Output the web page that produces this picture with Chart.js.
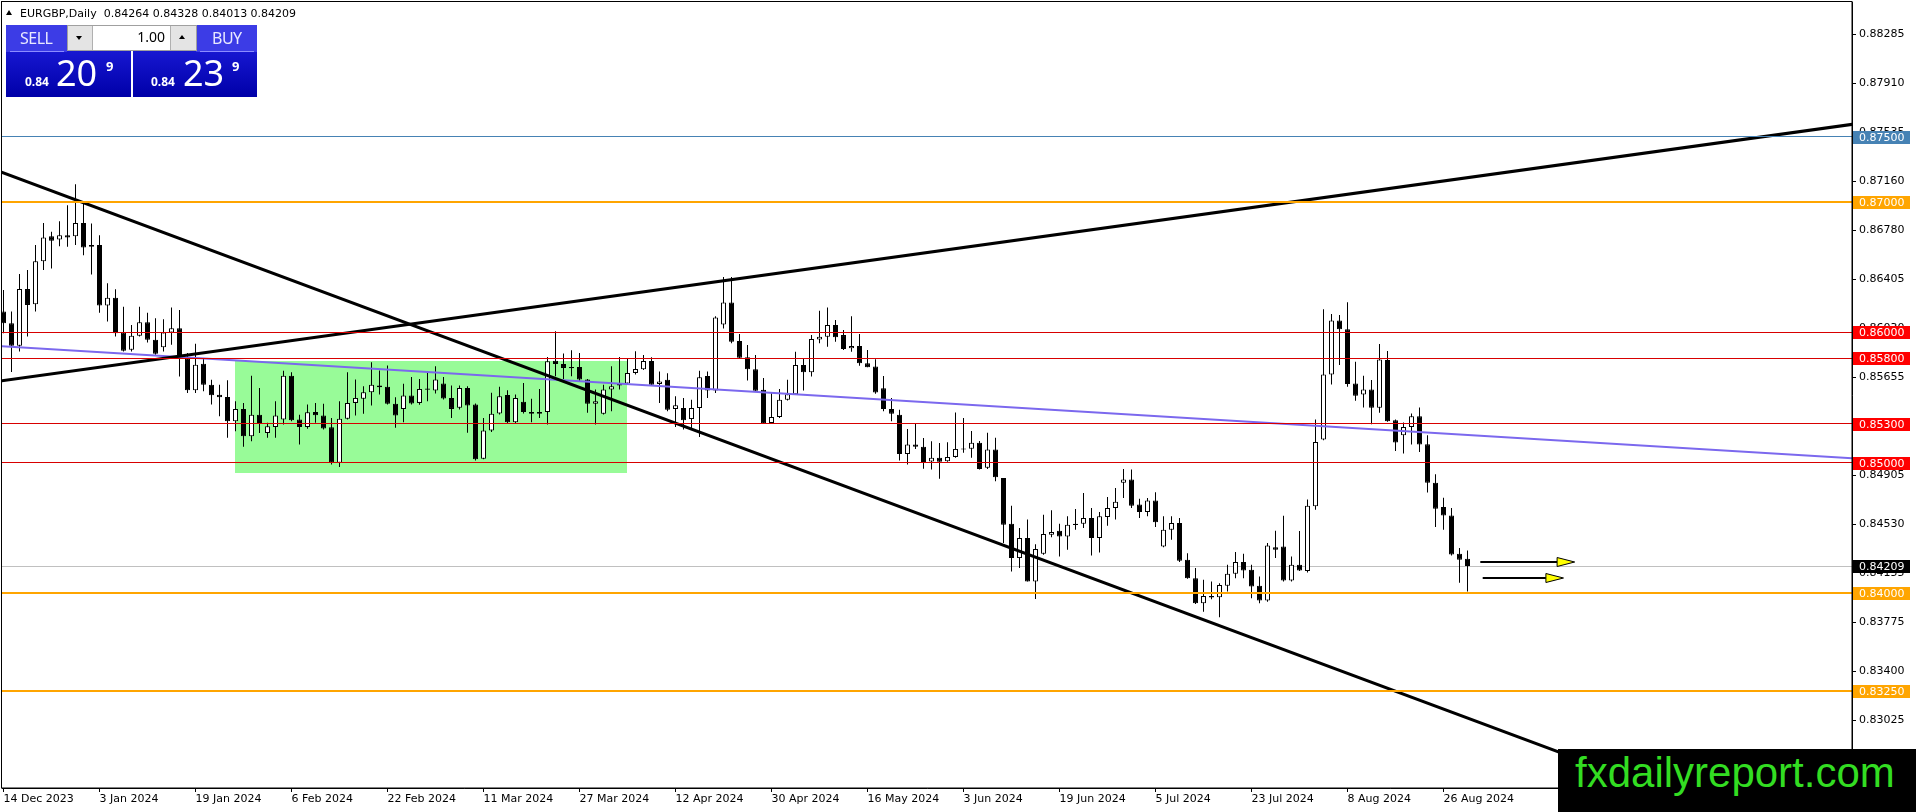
<!DOCTYPE html>
<html>
<head>
<meta charset="utf-8">
<script src="https://cdn.jsdelivr.net/npm/chart.js@4.4.1/dist/chart.umd.min.js"></script>
<style>
  html,body{margin:0;padding:0;background:#fff;}
  #wrap{position:relative;width:1916px;height:812px;overflow:hidden;background:#fff;}
  #c{position:absolute;left:0;top:0;}
  .abs{position:absolute;white-space:pre;}
  .hdr{font:11px "DejaVu Sans";line-height:11px;color:#000;left:20px;top:8px;}
  .tri{left:6px;top:10px;width:0;height:0;border-left:3.5px solid transparent;border-right:3.5px solid transparent;border-bottom:5px solid #000;}
  .head{background:#3c3ce6;}
  .price{background:linear-gradient(#2424e8,#0000a8);}
  .lbl{font:16px "Noto Sans";line-height:16px;color:#e8e8ff;letter-spacing:-0.5px;}
  .small{font:bold 12px "Noto Sans";line-height:12px;color:#fff;}
  .big{font:36px "Noto Sans";line-height:36px;color:#fff;}
  .sup{font:bold 13px "Noto Sans";line-height:13px;color:#fff;}
  .lot{left:67px;top:25px;width:128px;height:24px;background:#fff;border:1px solid #a0a0a0;}
  .btn{background:#e4e4e4;}
  .wm{left:1558px;top:749px;width:358px;height:63px;background:#000;}
  .wmt{font:42px "Liberation Sans";line-height:42px;color:#33dd22;left:1575px;top:752px;}
</style>
</head>
<body>
<div id="wrap">
  <canvas id="c" width="1916" height="812"></canvas>

  <div class="abs tri"></div>
  <div class="abs hdr">EURGBP,Daily  0.84264 0.84328 0.84013 0.84209</div>

  <!-- SELL panel -->
  <div class="abs price" style="left:6px;top:25px;width:125px;height:72px;"></div>
  <div class="abs head" style="left:6px;top:25px;width:61px;height:27px;"></div>
  <div class="abs" style="left:10px;top:51px;width:54px;height:1px;background:#8c8cff;"></div>
  <div class="abs lbl" style="left:20px;top:30px;">SELL</div>
  <div class="abs small" style="left:25px;top:76px;">0.84</div>
  <div class="abs big" style="left:56px;top:55px;">20</div>
  <div class="abs sup" style="left:106px;top:60px;">9</div>

  <!-- BUY panel -->
  <div class="abs price" style="left:133px;top:25px;width:124px;height:72px;"></div>
  <div class="abs head" style="left:196px;top:25px;width:61px;height:27px;"></div>
  <div class="abs" style="left:200px;top:51px;width:54px;height:1px;background:#8c8cff;"></div>
  <div class="abs lbl" style="left:212px;top:30px;">BUY</div>
  <div class="abs small" style="left:151px;top:76px;">0.84</div>
  <div class="abs big" style="left:183px;top:55px;">23</div>
  <div class="abs sup" style="left:232px;top:60px;">9</div>

  <!-- lot control -->
  <div class="abs lot"></div>
  <div class="abs btn" style="left:68px;top:26px;width:24px;height:24px;border-right:1px solid #b0b0b0;"></div>
  <div class="abs" style="left:76px;top:36px;width:0;height:0;border-left:3.5px solid transparent;border-right:3.5px solid transparent;border-top:4px solid #000;"></div>
  <div class="abs btn" style="left:170px;top:26px;width:25px;height:24px;border-left:1px solid #b0b0b0;"></div>
  <div class="abs" style="left:179px;top:35px;width:0;height:0;border-left:3.5px solid transparent;border-right:3.5px solid transparent;border-bottom:4px solid #000;"></div>
  <div class="abs" style="left:120px;top:30px;width:45px;text-align:right;font:14px 'Noto Sans';line-height:14px;color:#000;">1.00</div>

  <!-- watermark -->
  <div class="abs wm"></div>
  <div class="abs wmt">fxdailyreport.com</div>
</div>

<script>
// ---------- DATA (EURGBP daily, bar index 0 = 14 Dec 2023) ----------
const opens = [
0.86159,0.86070,0.85897,0.86332,0.86215,0.86546,0.86737,0.86712,0.86745,0.86737,
0.86839,0.86669,0.86669,0.86205,0.86266,0.85999,0.85866,0.85973,0.86078,0.85943,
0.85886,0.85999,0.86032,0.85802,0.85555,0.85759,0.85599,0.85522,0.85504,0.85318,
0.85413,0.85204,0.85369,0.85229,0.85275,0.85331,0.85667,0.85331,0.85275,0.85390,
0.85362,0.85273,0.85000,0.85337,0.85459,0.85490,0.85541,0.85592,0.85582,0.85452,
0.85413,0.85515,0.85459,0.85569,0.85554,0.85607,0.85497,0.85421,0.85574,0.85446,
0.85031,0.85247,0.85378,0.85520,0.85311,0.85467,0.85390,0.85375,0.85390,0.85783,
0.85758,0.85735,0.85735,0.85638,0.85452,0.85375,0.85561,0.85592,0.85607,0.85689,
0.85717,0.85781,0.85603,0.85636,0.85412,0.85419,0.85335,0.85419,0.85666,0.85554,
0.86061,0.86229,0.85934,0.85809,0.85717,0.85559,0.85305,0.85351,0.85483,0.85526,
0.85750,0.85694,0.85946,0.85967,0.86056,0.85979,0.85878,0.85895,0.85763,0.85738,
0.85572,0.85412,0.85369,0.85068,0.85140,0.85122,0.85010,0.85038,0.85012,0.85045,
0.85109,0.85107,0.85154,0.84961,0.85102,0.84884,0.84533,0.84269,0.84423,0.84089,
0.84302,0.84448,0.84479,0.84435,0.84533,0.84533,0.84576,0.84423,0.84584,0.84653,
0.84846,0.84871,0.84679,0.84623,0.84710,0.84358,0.84487,0.84538,0.84256,0.84115,
0.83922,0.83979,0.83969,0.84056,0.84148,0.84238,0.84179,0.84056,0.83943,0.84353,
0.84358,0.84097,0.84217,0.84169,0.84666,0.85178,0.85677,0.86090,0.86023,0.85608,
0.85524,0.85562,0.85421,0.85787,0.85326,0.85211,0.85275,0.85357,0.85142,0.84847,
0.84661,0.84596,0.84302,0.84264];
const highs = [
0.86325,0.86159,0.86447,0.86478,0.86669,0.86839,0.86771,0.86852,0.86974,0.87135,
0.87000,0.86834,0.86745,0.86376,0.86330,0.86197,0.86057,0.86197,0.86151,0.86108,
0.86100,0.86190,0.86172,0.85841,0.85912,0.85802,0.85637,0.85599,0.85632,0.85471,
0.85458,0.85667,0.85573,0.85306,0.85471,0.85706,0.85693,0.85369,0.85446,0.85459,
0.85452,0.85344,0.85472,0.85694,0.85638,0.85587,0.85770,0.85707,0.85745,0.85503,
0.85605,0.85658,0.85643,0.85702,0.85740,0.85658,0.85592,0.85592,0.85587,0.85454,
0.85344,0.85536,0.85582,0.85556,0.85523,0.85612,0.85490,0.85566,0.85811,0.86008,
0.85837,0.85862,0.85842,0.85643,0.85561,0.85599,0.85740,0.85811,0.85804,0.85855,
0.85827,0.85809,0.85699,0.85687,0.85509,0.85496,0.85483,0.85705,0.85699,0.86124,
0.86425,0.86425,0.85987,0.85903,0.85827,0.85649,0.85534,0.85565,0.85636,0.85852,
0.85801,0.85979,0.86165,0.86191,0.86094,0.86018,0.86124,0.85987,0.85865,0.85794,
0.85666,0.85496,0.85407,0.85259,0.85305,0.85190,0.85165,0.85152,0.85157,0.85386,
0.85343,0.85243,0.85166,0.85230,0.85192,0.84884,0.84671,0.84499,0.84564,0.84376,
0.84602,0.84635,0.84533,0.84589,0.84646,0.84769,0.84653,0.84623,0.84738,0.84807,
0.84953,0.84948,0.84723,0.84730,0.84774,0.84589,0.84589,0.84576,0.84307,0.84192,
0.84102,0.84089,0.84076,0.84217,0.84315,0.84302,0.84217,0.84128,0.84384,0.84479,
0.84594,0.84281,0.84476,0.84719,0.85332,0.86177,0.86141,0.86133,0.86230,0.85775,
0.85667,0.85634,0.85910,0.85857,0.85332,0.85308,0.85378,0.85424,0.85211,0.84911,
0.84732,0.84653,0.84346,0.84328];
const lows = [
0.85993,0.85695,0.85853,0.85968,0.86159,0.86478,0.86490,0.86661,0.86656,0.86669,
0.86592,0.86444,0.86151,0.86083,0.85968,0.85853,0.85853,0.85968,0.85922,0.85828,
0.85853,0.85904,0.85662,0.85535,0.85535,0.85548,0.85446,0.85356,0.85191,0.85242,
0.85122,0.85165,0.85229,0.85191,0.85191,0.85293,0.85318,0.85140,0.85260,0.85306,
0.85255,0.84987,0.84967,0.85332,0.85362,0.85375,0.85439,0.85523,0.85446,0.85268,
0.85311,0.85446,0.85444,0.85472,0.85531,0.85485,0.85344,0.85408,0.85230,0.85018,
0.85026,0.85235,0.85370,0.85301,0.85301,0.85378,0.85311,0.85344,0.85293,0.85663,
0.85643,0.85663,0.85625,0.85383,0.85293,0.85370,0.85395,0.85561,0.85599,0.85676,
0.85712,0.85590,0.85458,0.85394,0.85274,0.85254,0.85267,0.85198,0.85496,0.85534,
0.86030,0.85916,0.85801,0.85631,0.85547,0.85300,0.85300,0.85343,0.85478,0.85521,
0.85554,0.85661,0.85916,0.85890,0.85928,0.85865,0.85852,0.85743,0.85733,0.85529,
0.85394,0.85318,0.85017,0.84987,0.85106,0.84954,0.84949,0.84877,0.85007,0.85038,
0.85077,0.85038,0.84948,0.84953,0.84859,0.84384,0.84166,0.84192,0.84089,0.83956,
0.84294,0.84428,0.84281,0.84333,0.84487,0.84499,0.84289,0.84312,0.84517,0.84564,
0.84730,0.84653,0.84576,0.84589,0.84507,0.84353,0.84410,0.84238,0.84110,0.83917,
0.83858,0.83953,0.83815,0.84012,0.84115,0.84115,0.83961,0.83922,0.83935,0.84269,
0.84089,0.84089,0.84169,0.84159,0.84640,0.85173,0.85600,0.85749,0.85582,0.85475,
0.85424,0.85296,0.85383,0.85314,0.85091,0.85070,0.85139,0.85083,0.84771,0.84507,
0.84486,0.84289,0.84079,0.84013];
const closes = [
0.86070,0.85897,0.86332,0.86210,0.86546,0.86727,0.86702,0.86745,0.86727,0.86839,
0.86651,0.86656,0.86205,0.86266,0.85993,0.85858,0.85973,0.86078,0.85943,0.85836,
0.85999,0.86032,0.85802,0.85555,0.85751,0.85599,0.85517,0.85502,0.85318,0.85413,
0.85204,0.85369,0.85298,0.85280,0.85362,0.85667,0.85326,0.85275,0.85387,0.85365,
0.85263,0.85000,0.85337,0.85459,0.85497,0.85541,0.85599,0.85579,0.85452,0.85362,
0.85515,0.85454,0.85566,0.85559,0.85638,0.85492,0.85413,0.85574,0.85439,0.85026,
0.85247,0.85375,0.85510,0.85311,0.85497,0.85390,0.85375,0.85390,0.85778,0.85758,
0.85727,0.85724,0.85638,0.85452,0.85472,0.85561,0.85587,0.85607,0.85689,0.85719,
0.85781,0.85598,0.85623,0.85407,0.85440,0.85325,0.85419,0.85656,0.85554,0.86114,
0.86229,0.85928,0.85806,0.85717,0.85552,0.85300,0.85351,0.85483,0.85526,0.85750,
0.85694,0.85949,0.85967,0.86056,0.85962,0.85872,0.85895,0.85763,0.85733,0.85539,
0.85412,0.85376,0.85068,0.85140,0.85122,0.85005,0.85038,0.85007,0.85045,0.85106,
0.85101,0.85154,0.84953,0.85102,0.84889,0.84525,0.84269,0.84423,0.84089,0.84338,
0.84453,0.84469,0.84435,0.84525,0.84523,0.84576,0.84423,0.84589,0.84653,0.84700,
0.84871,0.84671,0.84623,0.84710,0.84543,0.84487,0.84538,0.84248,0.84115,0.83922,
0.83979,0.83966,0.84063,0.84148,0.84238,0.84174,0.84051,0.83943,0.84366,0.84333,
0.84097,0.84218,0.84174,0.84671,0.85160,0.85677,0.86090,0.86023,0.85603,0.85513,
0.85562,0.85421,0.85792,0.85319,0.85155,0.85275,0.85357,0.85139,0.84847,0.84648,
0.84596,0.84297,0.84256,0.84209];

const tickBars   = [0,12,24,36,48,60,72,84,96,108,120,132,144,156,168,180];
const tickLabels = ["14 Dec 2023","3 Jan 2024","19 Jan 2024","6 Feb 2024","22 Feb 2024","11 Mar 2024",
                    "27 Mar 2024","12 Apr 2024","30 Apr 2024","16 May 2024","3 Jun 2024","19 Jun 2024",
                    "5 Jul 2024","23 Jul 2024","8 Aug 2024","26 Aug 2024"];
const priceTicks = [0.83025,0.83400,0.83775,0.84155,0.84530,0.84905,0.85280,0.85655,
                    0.86030,0.86405,0.86780,0.87160,0.87535,0.87910,0.88285];

// horizontal levels
const levelPrices = [0.87500,0.87000,0.86000,0.85800,0.85300,0.85000,0.84000,0.83250];
const levelLineColors = ['#4682B4','#FFA500','#D80000','#D80000','#D80000','#D80000','#FFA500','#FFA500'];
const levelTagColors  = ['#4682B4','#FFA500','#FF0000','#FF0000','#FF0000','#FF0000','#FFA500','#FFA500'];
const levelWidths     = [1,2,1,1,1,1,2,2];
const currentPrice = 0.84209;

// trend lines (bar index, price)
const downTrend = [{x:-0.44, y:0.87232},{x:231.1, y:0.81944}];
const upTrend   = [{x:-0.44, y:0.85627},{x:231.1, y:0.87595}];
const midTrend  = [{x:-0.44, y:0.85895},{x:231.1, y:0.85034}];

// range rectangle (bars / prices)
const boxBars   = [29.0, 78.0];
const boxPrices = [0.85780, 0.84919];

// arrows: start bar, head-base bar, tip bar, price
const arrowStart = [184.6, 184.9];
const arrowBase  = [194.2, 192.8];
const arrowTip   = [196.4, 195.0];
const arrowPrice = [0.84241, 0.84119];

// ---------- BUILD ----------
const idx = opens.map((_, i) => i);
const wickData = idx.map(i => ({x: i, y: [lows[i], highs[i]]}));
const bodyData = idx.map(i => ({x: i, y: [opens[i], closes[i]]}));
const bodyColors = idx.map(i => closes[i] >= opens[i] ? '#ffffff' : '#000000');

const FONT = {family: 'DejaVu Sans', size: 11};

const decor = {
  id: 'decor',
  beforeDatasetsDraw(chart) {
    const {ctx, chartArea: a, scales: {x, y}} = chart;
    ctx.save();
    ctx.beginPath(); ctx.rect(a.left, a.top, a.right - a.left, a.bottom - a.top); ctx.clip();
    const x0 = x.getPixelForValue(boxBars[0]), x1 = x.getPixelForValue(boxBars[1]);
    const y0 = y.getPixelForValue(boxPrices[0]), y1 = y.getPixelForValue(boxPrices[1]);
    ctx.fillStyle = '#98FB98';
    ctx.fillRect(Math.round(x0), Math.round(y0), Math.round(x1 - x0), Math.round(y1 - y0));
    // current price line
    const yc = Math.round(y.getPixelForValue(currentPrice));
    ctx.fillStyle = '#C0C0C0';
    ctx.fillRect(a.left, yc, a.right - a.left, 1);
    ctx.restore();
  },
  afterDatasetsDraw(chart) {
    const {ctx, chartArea: a, scales: {x, y}} = chart;
    ctx.save();
    ctx.beginPath(); ctx.rect(a.left, a.top, a.right - a.left, a.bottom - a.top); ctx.clip();
    levelPrices.forEach((p, i) => {
      const w = levelWidths[i];
      const yy = Math.round(y.getPixelForValue(p) - w / 2);
      ctx.fillStyle = levelLineColors[i];
      ctx.fillRect(a.left, yy, a.right - a.left, w);
    });
    arrowPrice.forEach((p, i) => {
      const yy = Math.round(y.getPixelForValue(p));
      const xs = x.getPixelForValue(arrowStart[i]);
      const xb = x.getPixelForValue(arrowBase[i]);
      const xt = x.getPixelForValue(arrowTip[i]);
      ctx.strokeStyle = '#000'; ctx.lineWidth = 2;
      ctx.beginPath(); ctx.moveTo(xs, yy); ctx.lineTo(xb, yy); ctx.stroke();
      ctx.fillStyle = '#FFFF00'; ctx.lineWidth = 1;
      ctx.beginPath(); ctx.moveTo(xb, yy - 4.5); ctx.lineTo(xt, yy); ctx.lineTo(xb, yy + 4.5); ctx.closePath();
      ctx.fill(); ctx.stroke();
    });
    ctx.restore();
  },
  afterDraw(chart) {
    const {ctx, chartArea: a, scales: {y}} = chart;
    ctx.save();
    ctx.font = '11px "DejaVu Sans"';
    ctx.textBaseline = 'middle';
    const tag = (p, bg) => {
      const yy = Math.round(y.getPixelForValue(p));
      ctx.fillStyle = bg;
      ctx.fillRect(a.right + 1, yy - 6, 57, 13);
      ctx.fillStyle = '#ffffff';
      ctx.fillText(p.toFixed(5), a.right + 7, yy + 1);
    };
    levelPrices.forEach((p, i) => tag(p, levelTagColors[i]));
    tag(currentPrice, '#000000');
    // frame
    ctx.strokeStyle = '#000'; ctx.lineWidth = 1;
    ctx.strokeRect(1.5, 1.5, a.right - 1.5, a.bottom - 1.5);
    ctx.restore();
  }
};

const noPad = s => { s.paddingTop = 0; s.paddingBottom = 0; s.paddingLeft = 0; s.paddingRight = 0; };

new Chart(document.getElementById('c'), {
  type: 'bar',
  data: {
    datasets: [
      {type: 'line', data: downTrend, borderColor: '#000', borderWidth: 3, pointRadius: 0, order: 0},
      {type: 'line', data: upTrend, borderColor: '#000', borderWidth: 3, pointRadius: 0, order: 0},
      {type: 'line', data: midTrend, borderColor: '#7B68EE', borderWidth: 2, pointRadius: 0, order: 0},
      {data: bodyData, backgroundColor: bodyColors, borderColor: '#000', borderWidth: 1,
       borderSkipped: false, barThickness: 5, grouped: false, minBarLength: 1, inflateAmount: 0, order: 1},
      {data: wickData, backgroundColor: '#000', borderWidth: 0, barThickness: 1,
       grouped: false, inflateAmount: 0, order: 2}
    ]
  },
  options: {
    responsive: false,
    devicePixelRatio: 1,
    animation: false,
    events: [],
    layout: {padding: {left: 2, top: 2, right: 0, bottom: 0}, autoPadding: false},
    plugins: {legend: {display: false}, tooltip: {enabled: false}},
    scales: {
      x: {
        type: 'linear', position: 'bottom', offset: false,
        min: -0.1875, max: 231.0625,
        afterBuildTicks: s => { s.ticks = tickBars.map(v => ({value: v})); },
        afterFit: s => { s.height = 24; noPad(s); },
        ticks: {
          autoSkip: false, maxRotation: 0, align: 'start', padding: 1, color: '#000', font: FONT,
          callback: v => { const i = tickBars.indexOf(v); return i >= 0 ? tickLabels[i] : ''; }
        },
        grid: {drawOnChartArea: false, drawTicks: true, tickLength: 4, color: '#000', offset: false},
        border: {display: true, color: '#000', width: 1}
      },
      y: {
        type: 'linear', position: 'right',
        min: 0.82506, max: 0.88533,
        afterBuildTicks: s => { s.ticks = priceTicks.map(v => ({value: v})); },
        afterFit: s => { s.width = 64; noPad(s); },
        ticks: {autoSkip: false, padding: 3, color: '#000', font: FONT,
                callback: v => Number(v).toFixed(5)},
        grid: {drawOnChartArea: false, drawTicks: true, tickLength: 4, color: '#000'},
        border: {display: true, color: '#000', width: 1}
      }
    }
  },
  plugins: [decor]
});
</script>
</body>
</html>
